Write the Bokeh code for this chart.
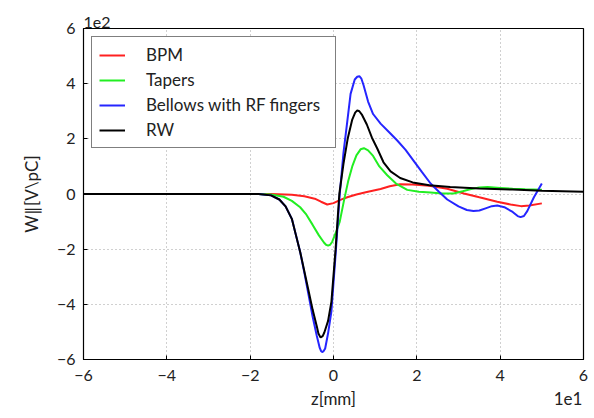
from bokeh.plotting import figure
from bokeh.models import FixedTicker, LinearAxis, Title
from bokeh.embed import file_html
from bokeh.resources import INLINE

# ---- data (z in mm, W in V/pC) ----
rw_z = [-60, -30, -18, -15, -13, -11.5, -10, -9, -8, -7, -6, -5, -4, -3.6, -3.1, -2.6, -2.2, -1.3,
        -0.5, 0.5, 1.4, 2.4, 3.4, 4.5, 5.2, 5.7, 6.2, 6.8, 8, 9.2, 10.5, 12, 13.7, 16, 19, 23,
        28, 35, 43, 50, 60]
rw_w = [0, 0, 0, -5, -20, -45, -90, -150, -210, -280, -350, -420, -480, -507, -520, -515, -502,
        -460, -390, -200, 0, 110, 200, 270, 295, 303, 300, 288, 252, 205, 165, 115, 82, 58, 42,
        32, 25, 20, 16, 12, 8]

bel_z = [-35, -18, -15, -13, -11.5, -10, -9, -8, -7, -6, -5, -4, -3.3, -3.0, -2.7, -2.4, -2, -1.3,
         -0.5, 0.5, 1.5, 2.4, 3.2, 4.1, 5.1, 5.7, 6.2, 6.7, 7.2, 8.3, 9.5, 11.3, 13.3, 15.3, 17.3,
         19.2, 21.2, 23.3, 25.3, 27.3, 30, 32, 33.6, 35, 36.5, 38, 39.3, 41, 43, 44.2, 44.9,
         45.7, 46.5, 48.1, 50]
bel_w = [0, 0, -5, -20, -45, -90, -150, -210, -285, -365, -445, -515, -558, -569, -573, -570,
         -560, -505, -425, -220, 0, 150, 250, 363, 415, 425, 427, 418, 395, 335, 290, 255, 225,
         194, 160, 121, 80, 38, 8, -20, -45, -58, -62, -60, -52, -44, -42, -48, -65, -80, -84,
         -80, -62, -12, 38]

tap_z = [-35, -18, -15, -12, -10, -8, -6.5, -5, -3.5, -2.3, -1.8, -1.3, -0.8, -0.3, 0.7, 1.5,
         2.5, 3.5, 4.5, 5.5, 6.5, 7.3, 8.3, 9.5, 11, 12.9, 15, 17.7, 20.5, 23.3, 26, 28.8,
         31, 33, 35, 37, 40, 43, 46, 50]
tap_w = [0, 0, -2, -10, -25, -48, -75, -112, -150, -176, -184, -187, -184, -173, -135, -100,
         -25, 45, 100, 140, 162, 166, 158, 138, 100, 68, 38, 15, 8, 5, 2, 2, 10, 18, 24, 25,
         22, 19, 17, 15]

bpm_z = [-35, -15, -10, -7, -4.5, -3, -1.5, 0, 1.5, 3.3, 5.5, 8, 11.3, 13.5, 16, 19, 23,
         27.3, 31.3, 35, 39.3, 42.5, 45, 47, 50]
bpm_w = [0, 0, -3, -8, -17, -28, -38, -33, -22, -12, -2, 7, 18, 28, 35, 34, 30, 19, 2,
         -12, -28, -38, -44, -42, -34]

series = [("BPM", bpm_z, bpm_w, "#ff2020"),
          ("Tapers", tap_z, tap_w, "#22ee22"),
          ("Bellows with RF fingers", bel_z, bel_w, "#2525ff"),
          ("RW", rw_z, rw_w, "#000000")]

x_ticks = [-60, -40, -20, 0, 20, 40, 60]
x_tick_labels = ["\u22126", "\u22124", "\u22122", "0", "2", "4", "6"]
y_ticks = [-600, -400, -200, 0, 200, 400, 600]
y_tick_labels = ["\u22126", "\u22124", "\u22122", "0", "2", "4", "6"]
x_label = "z[mm]"
y_label = "W\u2225[V\\pC]"
x_scale_text = "1e1"
y_scale_text = "1e2"

FONT = "Lato"
TXT = "#222222"

p = figure(width=594, height=418, x_range=(-60, 60), y_range=(-600, 600),
           output_backend="svg", toolbar_location=None,
           min_border_left=83, min_border_right=11, min_border_top=28,
           min_border_bottom=59)

for name, zs, ws, col in series:
    p.line(zs, ws, line_color=col, line_width=2, legend_label=name)

p.outline_line_color = "black"
p.outline_line_width = 1.2
p.outline_line_alpha = 1

for ax, ticks, labels in ((p.xaxis[0], x_ticks, x_tick_labels), (p.yaxis[0], y_ticks, y_tick_labels)):
    ax.ticker = FixedTicker(ticks=ticks)
    ax.major_label_overrides = {t: l for t, l in zip(ticks, labels)}
    ax.minor_tick_line_color = None
    ax.major_tick_in = 4
    ax.major_tick_out = 0
    ax.axis_line_color = "black"
    ax.major_label_text_font = FONT
    ax.major_label_text_font_size = "16px"
    ax.major_label_text_color = TXT
    ax.axis_label_text_font = FONT
    ax.axis_label_text_font_size = "17px"
    ax.axis_label_text_font_style = "normal"
    ax.axis_label_text_color = TXT

p.xaxis[0].major_label_standoff = 10
p.yaxis[0].axis_label = y_label
p.yaxis[0].major_label_standoff = 8
p.yaxis[0].axis_label_standoff = 12

# second row under the x tick labels: axis title centred at z=0 and the "1e1" multiplier at the right
x_title_pos = [0, 56.3]
ax2 = LinearAxis(ticker=FixedTicker(ticks=x_title_pos),
                 major_label_overrides={x_title_pos[0]: x_label, x_title_pos[1]: x_scale_text},
                 major_tick_line_color=None, minor_tick_line_color=None, axis_line_color=None,
                 major_tick_in=0, major_tick_out=0, major_label_standoff=4,
                 major_label_text_font=FONT, major_label_text_font_size="17px",
                 major_label_text_color=TXT)
p.add_layout(ax2, "below")

p.add_layout(Title(text=y_scale_text, align="left", offset=0, standoff=2,
                   text_font=FONT, text_font_size="16px", text_font_style="normal",
                   text_color=TXT), "above")

p.xgrid.ticker = FixedTicker(ticks=x_ticks)
p.ygrid.ticker = FixedTicker(ticks=y_ticks)
p.grid.grid_line_color = "#a0a0a0"
p.grid.grid_line_dash = "1 3"
p.grid.grid_line_width = 1

lg = p.legend[0]
lg.location = "top_left"
lg.margin = 8
lg.padding = 7
lg.spacing = 4
lg.label_height = 20
lg.glyph_height = 20
lg.glyph_width = 26
lg.label_standoff = 21
lg.label_width = 182
lg.label_text_font = FONT
lg.label_text_font_size = "17px"
lg.label_text_color = TXT
lg.border_line_color = "black"
lg.border_line_width = 1
lg.background_fill_alpha = 1

open("out.html", "w").write(file_html(p, INLINE))
